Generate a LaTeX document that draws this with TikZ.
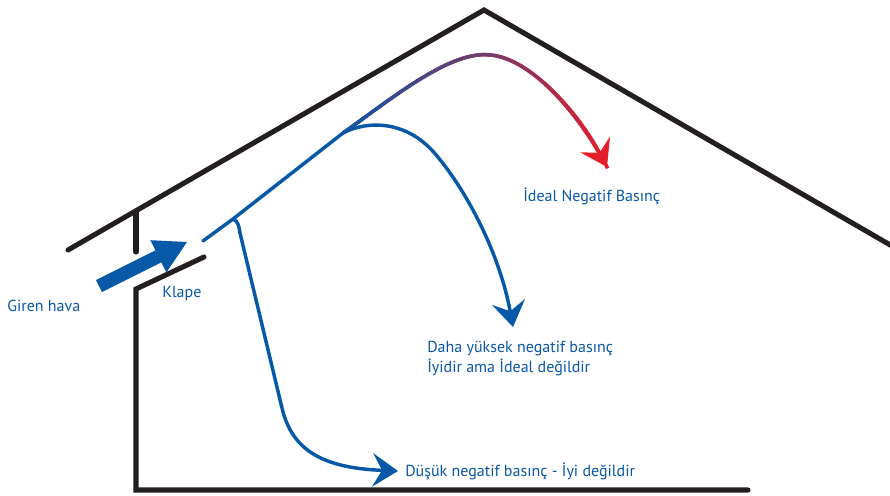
\documentclass[tikz,border=0pt]{standalone}
\usepackage{fontspec}
\setmainfont{PT Sans}
\usetikzlibrary{arrows.meta,decorations.markings}

\definecolor{flowblue}{RGB}{8,88,168}
\definecolor{flowred}{RGB}{232,30,42}
\definecolor{wallink}{RGB}{35,31,32}

\tikzset{
  wall/.style={draw=wallink, line width=3.8pt, line cap=round, line join=miter},
  flow/.style={draw=flowblue, line width=2.6pt},
  flowtip/.style={-{Stealth[length=19pt, width=25pt, inset=7pt]}},
  lbl/.style={text=flowblue, font=\fontsize{12}{14.5}\selectfont, inner sep=0pt, anchor=base west, align=left},
  gradflow/.style={decorate, decoration={markings,
    mark=between positions 0 and 1 step 1.2pt with {
      \pgfmathsetmacro\mixfrac{\pgfkeysvalueof{/pgf/decoration/mark info/distance from start}/\pgfdecoratedpathlength}
      \pgfmathtruncatemacro\mixpct{100*\mixfrac}
      \draw[line width=2.6pt, draw=flowred!\mixpct!flowblue] (-0.4pt,0) -- (1.4pt,0);
    }}}
}

\begin{document}
\begin{tikzpicture}[x=0.75pt, y=-0.75pt]
  \useasboundingbox (0,0) rectangle (890,496);

  % house outline
  \draw[wall] (68,250) -- (484,10) -- (892,246);
  \draw[wall] (136,211) -- (136,252);
  \draw[wall] (204,257) -- (136,289) -- (136,490) -- (748,490);

  % incoming air arrow
  \fill[flowblue] (96,280) -- (155.4,250.3) -- (150.4,240.2) -- (187,242)
    -- (166.4,272.4) -- (161.4,262.3) -- (102,292) -- cycle;

  % flow path points
  \coordinate (inlet) at (203,241);
  \coordinate (fork1) at (233,219);
  \coordinate (fork2) at (343,133);
  \coordinate (endlow) at (398,471);
  \coordinate (endmid) at (513,327);
  \coordinate (endtop) at (607,167);

  % main stream along the roof
  \draw[flow, line cap=round] (inlet) -- (fork1) -- (fork2);

  % low branch
  \draw[flow, flowtip] (fork1) .. controls (238,221) and (239,226) .. (240,233)
    -- (282,408) .. controls (292,450) and (322,468) .. (endlow);

  % middle branch
  \draw[flow, flowtip] (fork2) .. controls (368,120) and (408,120) .. (437,156)
    .. controls (468,193) and (500,255) .. (endmid);

  % upper branch, blue turning red
  \draw[flow, draw=flowred, flowtip] (fork2) .. controls (390,100) and (450,50) .. (490,55)
    .. controls (530,58) and (578,112) .. (endtop);
  \path[gradflow] (fork2) .. controls (390,100) and (450,50) .. (490,55)
    .. controls (530,58) and (578,112) .. (endtop);

  % labels
  \node[lbl] (giren) at (7,311) {Giren hava};
  \node[lbl] (klape) at (162,297) {Klape};
  \node[lbl] (ideal) at (523,201) {İdeal Negatif Basınç};
  \node[lbl] (orta) at (427,372) {Daha yüksek negatif basınç\\İyidir ama İdeal değildir};
  \node[lbl] (dusuk) at (405,476) {Düşük negatif basınç - İyi değildir};
\end{tikzpicture}
\end{document}
